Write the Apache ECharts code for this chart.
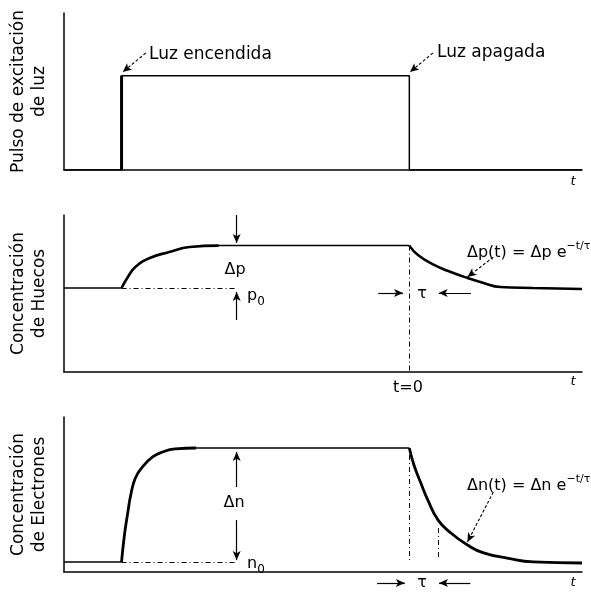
<!DOCTYPE html>
<html>
<head>
<meta charset="utf-8">
<script src="https://cdn.jsdelivr.net/npm/echarts@6.0.0/dist/echarts.min.js"></script>
<style>
  html, body { margin: 0; padding: 0; background: #fff; }
  #chart { width: 591px; height: 593px; }
</style>
</head>
<body>
<div id="chart"></div>
<script>
// tiempo en unidades arbitrarias: luz encendida en t=1, apagada en t=6
const pulseT = [0, 1, 1, 6, 6, 9];
const pulseLevel = [0, 0, 6, 6, 0, 0];
const edgeT = [1, 1];
const edgeLevel = [0, 6];

// concentracion de huecos
const holeBaseT = [0, 1];
const holeBase = [5.35, 5.35];
const holeRiseT = [1.0, 1.11, 1.24, 1.49, 1.83, 2.18, 2.69];
const holeRise = [5.35, 6.05, 6.69, 7.26, 7.64, 7.96, 8.05];
const holePlateauT = [2.69, 6.0];
const holePlateau = [8.05, 8.05];
const holeDecayT = [6.0, 6.15, 6.43, 6.72, 7.01, 7.29, 7.58, 8.15, 9.0];
const holeDecay = [8.05, 7.45, 6.82, 6.37, 5.99, 5.67, 5.41, 5.35, 5.29];

// concentracion de electrones
const elecBaseT = [0, 1];
const elecBase = [0.65, 0.65];
const elecRiseT = [1.0, 1.05, 1.11, 1.16, 1.24, 1.36, 1.54, 1.71, 1.93, 2.3];
const elecRise = [0.65, 2.39, 3.87, 4.97, 6.06, 6.77, 7.42, 7.74, 7.94, 8.0];
const elecPlateauT = [2.3, 6.0];
const elecPlateau = [8.0, 8.0];
const elecDecayT = [6.0, 6.08, 6.2, 6.32, 6.5, 6.72, 7.01, 7.29, 7.7, 8.15, 9.0];
const elecDecay = [8.0, 6.9, 5.74, 4.65, 3.35, 2.52, 1.74, 1.23, 0.9, 0.65, 0.58];

const yNames = ['Pulso de excitación\nde luz', 'Concentración\nde Huecos', 'Concentración\nde Electrones'];

const FONT = 'DejaVu Sans';
const zip = (xs, ys) => xs.map((x, i) => [x, ys[i]]);

const line = (gi, xs, ys, width, smooth) => ({
  type: 'line',
  xAxisIndex: gi,
  yAxisIndex: gi,
  data: zip(xs, ys),
  symbol: 'none',
  smooth: smooth ? 0.5 : false,
  lineStyle: {color: '#000', width: width},
  silent: true
})

// flechas / lineas de cota en coordenadas de datos
const marks = (gi, pairs, style, arrow) => ({
  type: 'line',
  xAxisIndex: gi,
  yAxisIndex: gi,
  data: [],
  silent: true,
  markLine: {
    silent: true,
    animation: false,
    symbol: arrow ? ['none', 'arrow'] : ['none', 'none'],
    symbolSize: [6, 9],
    label: {show: false},
    emphasis: {disabled: true},
    lineStyle: Object.assign({color: '#000', width: 1.1, type: 'solid'}, style),
    data: pairs.map(p => [{coord: p[0]}, {coord: p[1]}])
  }
})

const SOLID = {type: 'solid', width: 1.2};
const DASH = {type: [3, 2]};
const DASHDOT = {type: [5, 3, 1, 3], width: 1};

const grids = [
  {left: 61, right: 9, top: 13, height: 157},
  {left: 61, right: 9, top: 215, height: 157},
  {left: 61, right: 9, top: 417, height: 155},
  {left: 61, right: 9, top: 576, height: 14}
]

const axisLine = {show: true, onZero: false, lineStyle: {color: '#000', width: 1.5}};

const xAxis = grids.map((g, i) => ({
  type: 'value', gridIndex: i, min: 0, max: 9, show: i < 3,
  axisLine: axisLine, axisTick: {show: false}, axisLabel: {show: false}, splitLine: {show: false}
}))
const yAxis = grids.map((g, i) => ({
  type: 'value', gridIndex: i, min: 0, max: i < 3 ? 10 : 1, show: i < 3,
  axisLine: axisLine, axisTick: {show: false}, axisLabel: {show: false}, splitLine: {show: false},
  name: yNames[i] || '',
  nameLocation: 'middle',
  nameRotate: 90,
  nameGap: 14,
  nameTextStyle: {fontFamily: FONT, fontSize: 17, lineHeight: 21, color: '#000'}
}))

const series = [
  line(0, pulseT, pulseLevel, 1.5, false),
  line(0, edgeT, edgeLevel, 3, false),
  marks(0, [[[1.42, 7.45], [1.02, 6.24]], [[6.41, 7.45], [6.01, 6.24]]], DASH, true),

  line(1, holeBaseT, holeBase, 1.5, false),
  line(1, holeRiseT, holeRise, 2.6, true),
  line(1, holePlateauT, holePlateau, 1.5, false),
  line(1, holeDecayT, holeDecay, 2.6, true),
  marks(1, [[[3.0, 10.0], [3.0, 8.22]], [[3.0, 3.31], [3.0, 5.1]],
    [[5.46, 5.03], [5.89, 5.03]], [[7.07, 5.03], [6.51, 5.03]]], SOLID, true),
  marks(1, [[[7.46, 7.32], [7.01, 6.05]]], DASH, true),
  marks(1, [[[1.0, 5.35], [3.0, 5.35]], [[6.0, 8.05], [6.0, 0]]], DASHDOT, false),

  line(2, elecBaseT, elecBase, 1.5, false),
  line(2, elecRiseT, elecRise, 2.8, true),
  line(2, elecPlateauT, elecPlateau, 1.5, false),
  line(2, elecDecayT, elecDecay, 2.8, true),
  marks(2, [[[3.0, 5.48], [3.0, 7.74]], [[3.0, 3.35], [3.0, 0.77]]], SOLID, true),
  marks(2, [[[7.46, 5.16], [7.01, 1.94]]], DASH, true),
  marks(2, [[[1.0, 0.65], [3.0, 0.65]], [[6.0, 7.55], [6.0, 0.77]], [[6.5, 2.84], [6.5, 0.77]]], DASHDOT, false),

  marks(3, [[[5.46, 0.5], [5.94, 0.5]], [[7.07, 0.5], [6.53, 0.5]]], SOLID, true)
]

const txt = (text, x, y, size, align, extra) => ({
  type: 'text',
  silent: true,
  style: Object.assign({
    text: text, x: x, y: y,
    font: (extra && extra.italic ? 'italic ' : '') + size + 'px "' + FONT + '"',
    fill: '#000',
    align: align || 'left',
    verticalAlign: 'middle'
  }, extra && extra.rich ? {rich: extra.rich, lineHeight: 24} : {})
})

const rich = {
  sup: {fontSize: 11, fontFamily: FONT, verticalAlign: 'top', lineHeight: 12},
  sub: {fontSize: 12, fontFamily: FONT, verticalAlign: 'bottom', lineHeight: 12}
}

const graphic = [
  txt('Luz encendida', 149, 55, 17),
  txt('Luz apagada', 437, 53, 17),
  txt('t', 573, 182, 13, 'center', {italic: true}),
  txt('Δp', 235, 270, 16, 'center'),
  txt('p{sub|0}', 247, 296, 16, 'left', {rich: rich}),
  txt('τ', 422, 294, 16, 'center'),
  txt('Δp(t) = Δp e{sup|−t/τ}', 467, 253, 16, 'left', {rich: rich}),
  txt('t=0', 408, 388, 16, 'center'),
  txt('t', 573, 382, 13, 'center', {italic: true}),
  txt('Δn', 234, 503, 16, 'center'),
  txt('n{sub|0}', 247, 564, 16, 'left', {rich: rich}),
  txt('Δn(t) = Δn e{sup|−t/τ}', 467, 486, 16, 'left', {rich: rich}),
  txt('τ', 422, 583, 16, 'center'),
  txt('t', 573, 583, 13, 'center', {italic: true})
]

const chart = echarts.init(document.getElementById('chart'), null, {renderer: 'canvas'});
chart.setOption({
  animation: false,
  backgroundColor: '#fff',
  textStyle: {fontFamily: FONT},
  grid: grids,
  xAxis: xAxis,
  yAxis: yAxis,
  series: series,
  graphic: graphic
})
</script>
</body>
</html>
